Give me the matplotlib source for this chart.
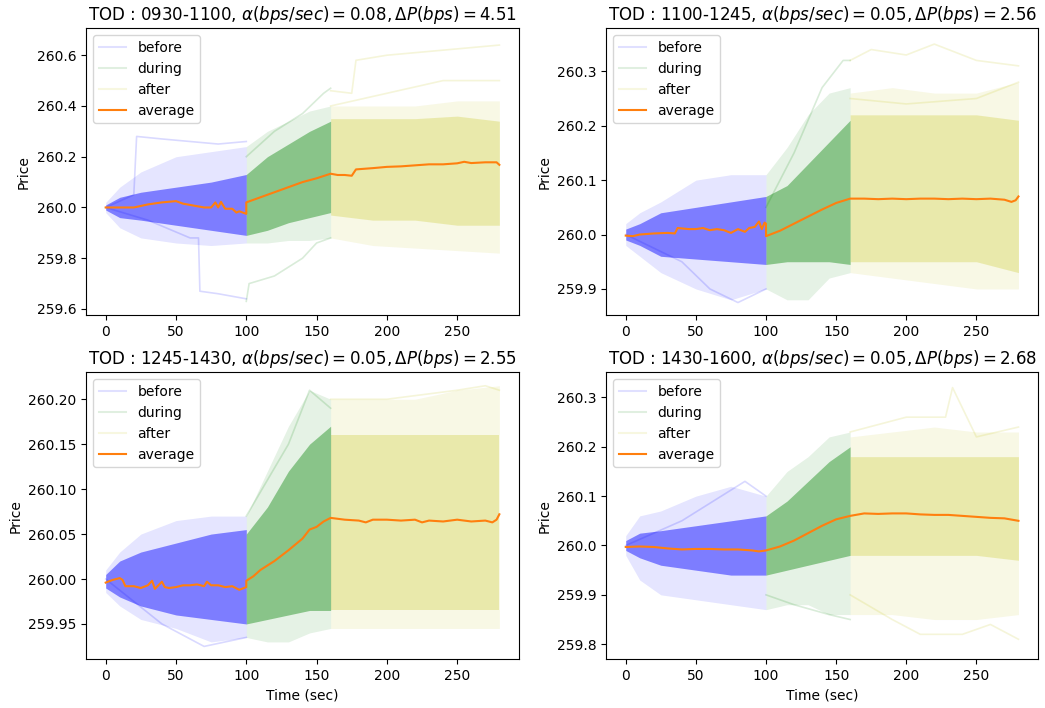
import matplotlib
matplotlib.use("Agg")
import matplotlib.pyplot as plt
from matplotlib.lines import Line2D

# ---------------- data ----------------
TITLES = [
    r"TOD : 0930-1100, $\alpha(bps/sec) = 0.08, \Delta P(bps) = 4.51$",
    r"TOD : 1100-1245, $\alpha(bps/sec) = 0.05, \Delta P(bps) = 2.56$",
    r"TOD : 1245-1430, $\alpha(bps/sec) = 0.05, \Delta P(bps) = 2.55$",
    r"TOD : 1430-1600, $\alpha(bps/sec) = 0.05, \Delta P(bps) = 2.68$",
]
X_TICKS = [0, 50, 100, 150, 200, 250]

# time knots of the spread envelopes for each phase
T_BEFORE = [0, 10, 25, 50, 75, 100]
T_DURING = [100, 115, 130, 145, 160]
T_AFTER = [160, 190, 220, 250, 280]

# envelopes per phase: [outer_lo, core_lo, core_hi, outer_hi]
P1_BEFORE = [[259.98, 259.92, 259.88, 259.86, 259.85, 259.86],
             [259.99, 259.96, 259.95, 259.93, 259.91, 259.89],
             [260.01, 260.04, 260.06, 260.08, 260.10, 260.13],
             [260.02, 260.08, 260.14, 260.20, 260.22, 260.24]]
P1_DURING = [[259.86, 259.86, 259.87, 259.87, 259.88],
             [259.89, 259.91, 259.94, 259.96, 259.98],
             [260.13, 260.20, 260.25, 260.30, 260.34],
             [260.24, 260.30, 260.34, 260.38, 260.40]]
P1_AFTER = [[259.88, 259.85, 259.84, 259.83, 259.82],
            [259.97, 259.95, 259.95, 259.93, 259.93],
            [260.35, 260.35, 260.35, 260.36, 260.34],
            [260.40, 260.40, 260.40, 260.42, 260.42]]

P2_BEFORE = [[259.98, 259.96, 259.93, 259.90, 259.88, 259.90],
             [259.99, 259.98, 259.96, 259.955, 259.95, 259.945],
             [260.01, 260.02, 260.04, 260.05, 260.06, 260.07],
             [260.02, 260.04, 260.06, 260.10, 260.11, 260.11]]
P2_DURING = [[259.90, 259.88, 259.88, 259.92, 259.93],
             [259.945, 259.95, 259.95, 259.95, 259.945],
             [260.07, 260.09, 260.13, 260.17, 260.21],
             [260.11, 260.16, 260.22, 260.26, 260.27]]
P2_AFTER = [[259.93, 259.92, 259.91, 259.90, 259.90],
            [259.95, 259.95, 259.95, 259.95, 259.93],
            [260.22, 260.22, 260.22, 260.22, 260.21],
            [260.26, 260.27, 260.26, 260.26, 260.28]]

P3_BEFORE = [[259.985, 259.97, 259.955, 259.945, 259.93, 259.935],
             [259.99, 259.98, 259.97, 259.96, 259.955, 259.95],
             [260.005, 260.02, 260.03, 260.04, 260.05, 260.055],
             [260.01, 260.03, 260.05, 260.065, 260.07, 260.07]]
P3_DURING = [[259.935, 259.93, 259.93, 259.94, 259.945],
             [259.95, 259.955, 259.96, 259.965, 259.965],
             [260.05, 260.08, 260.12, 260.15, 260.17],
             [260.07, 260.12, 260.17, 260.21, 260.20]]
P3_AFTER = [[259.945, 259.945, 259.945, 259.945, 259.945],
            [259.965, 259.965, 259.965, 259.965, 259.965],
            [260.16, 260.16, 260.16, 260.16, 260.16],
            [260.20, 260.20, 260.20, 260.21, 260.215]]

P4_BEFORE = [[259.98, 259.93, 259.90, 259.89, 259.88, 259.87],
             [259.99, 259.975, 259.96, 259.95, 259.94, 259.94],
             [260.01, 260.025, 260.03, 260.04, 260.05, 260.06],
             [260.02, 260.06, 260.07, 260.10, 260.12, 260.10]]
P4_DURING = [[259.87, 259.88, 259.88, 259.86, 259.86],
             [259.94, 259.95, 259.96, 259.97, 259.98],
             [260.06, 260.09, 260.13, 260.17, 260.20],
             [260.10, 260.15, 260.18, 260.22, 260.23]]
P4_AFTER = [[259.86, 259.86, 259.85, 259.85, 259.86],
            [259.98, 259.98, 259.98, 259.98, 259.97],
            [260.18, 260.18, 260.18, 260.18, 260.18],
            [260.22, 260.23, 260.24, 260.23, 260.23]]

# a few individual outlying paths: (phase, times, prices)
P1_OUT = [("before", [0, 20, 22, 40, 60, 80, 100], [260.0, 260.05, 260.28, 260.27, 260.26, 260.25, 260.26]),
          ("before", [0, 30, 60, 66, 67, 80, 100], [260.0, 259.95, 259.88, 259.88, 259.67, 259.66, 259.64]),
          ("during", [100, 102, 120, 140, 150, 160], [259.63, 259.70, 259.73, 259.80, 259.86, 259.88]),
          ("during", [100, 120, 140, 155, 160], [260.20, 260.30, 260.37, 260.45, 260.47]),
          ("after", [160, 175, 178, 200, 240, 280], [260.46, 260.45, 260.58, 260.60, 260.62, 260.64]),
          ("after", [160, 200, 240, 280], [260.40, 260.45, 260.50, 260.50])]
P2_OUT = [("before", [0, 40, 60, 80, 100], [260.0, 259.95, 259.90, 259.875, 259.90]),
          ("during", [100, 120, 140, 155, 160], [260.05, 260.15, 260.27, 260.32, 260.32]),
          ("after", [160, 175, 200, 220, 250, 280], [260.32, 260.34, 260.33, 260.35, 260.32, 260.31]),
          ("after", [160, 200, 250, 280], [260.25, 260.24, 260.25, 260.28])]
P3_OUT = [("before", [0, 40, 70, 100], [260.0, 259.95, 259.925, 259.935]),
          ("during", [100, 130, 145, 160], [260.07, 260.15, 260.21, 260.19]),
          ("after", [160, 200, 250, 270, 280], [260.20, 260.20, 260.21, 260.215, 260.21])]
P4_OUT = [("before", [0, 40, 85, 100], [260.0, 260.05, 260.13, 260.10]),
          ("during", [100, 120, 145, 160], [259.90, 259.88, 259.86, 259.85]),
          ("after", [160, 200, 228, 233, 250, 280], [260.23, 260.26, 260.26, 260.32, 260.22, 260.24]),
          ("after", [160, 190, 210, 240, 260, 280], [259.90, 259.85, 259.82, 259.82, 259.84, 259.81])]

# average line
P1_T_AVG = [0, 10, 20, 30, 40, 50, 55, 60, 70, 75, 78, 80, 82, 85, 90, 93, 95, 100,
            100, 110, 120, 130, 140, 150, 160,
            165, 170, 175, 178, 190, 200, 210, 220, 230, 240, 250, 255, 260, 270, 278, 280]
P1_AVG = [260.0, 260.0, 260.0, 260.012, 260.02, 260.025, 260.015, 260.01, 260.0, 260.0, 260.02, 260.0, 260.022,
          259.995, 259.995, 259.98, 259.985, 259.975,
          260.02, 260.04, 260.06, 260.08, 260.10, 260.115, 260.133,
          260.128, 260.128, 260.125, 260.15, 260.155, 260.16, 260.162, 260.166, 260.17, 260.17, 260.174,
          260.18, 260.175, 260.178, 260.178, 260.168]
P2_T_AVG = [0, 5, 10, 20, 30, 35, 37, 45, 50, 55, 60, 65, 70, 75, 80, 85, 88, 92, 95, 97, 99, 100,
            100, 110, 120, 130, 140, 150, 160,
            170, 180, 190, 200, 210, 220, 230, 240, 250, 260, 270, 275, 278, 280]
P2_AVG = [259.998, 259.997, 260.0, 260.002, 260.003, 260.002, 260.012, 260.01, 260.01, 260.012, 260.008, 260.01,
          260.008, 260.003, 260.01, 260.005, 260.012, 260.014, 260.024, 260.01, 260.022, 260.02,
          259.997, 260.007, 260.02, 260.033, 260.046, 260.058, 260.066,
          260.066, 260.065, 260.066, 260.065, 260.066, 260.066, 260.065, 260.066, 260.065, 260.066, 260.064,
          260.06, 260.063, 260.07]
P3_T_AVG = [0, 5, 10, 12, 14, 20, 25, 30, 33, 35, 40, 42, 45, 50, 55, 60, 65, 70, 72, 75, 80, 85, 90, 95, 100,
            100, 105, 110, 120, 130, 140, 145, 150, 155, 160,
            170, 180, 185, 190, 200, 210, 220, 225, 230, 240, 250, 260, 270, 275, 278, 280]
P3_AVG = [259.996, 259.999, 260.001, 259.999, 259.992, 259.992, 259.99, 259.993, 259.998, 259.989, 259.997,
          259.991, 259.99, 259.991, 259.993, 259.993, 259.994, 259.992, 259.997, 259.993, 259.993, 259.991,
          259.992, 259.988, 259.991,
          259.998, 260.003, 260.01, 260.02, 260.032, 260.045, 260.055, 260.058, 260.064, 260.068,
          260.066, 260.065, 260.063, 260.066, 260.066, 260.065, 260.066, 260.063, 260.065, 260.064, 260.066,
          260.064, 260.065, 260.063, 260.066, 260.072]
P4_T_AVG = [0, 10, 20, 30, 40, 50, 60, 70, 80, 90, 95, 100,
            100, 110, 120, 130, 140, 150, 160,
            170, 180, 190, 200, 210, 220, 230, 240, 250, 260, 270, 280]
P4_AVG = [259.997, 259.998, 259.997, 259.994, 259.992, 259.993, 259.993, 259.992, 259.992, 259.99, 259.988,
          259.99,
          259.99, 259.998, 260.01, 260.025, 260.04, 260.053, 260.06,
          260.065, 260.064, 260.065, 260.065, 260.063, 260.062, 260.062, 260.06, 260.058, 260.056, 260.055,
          260.05]

Y_LIMS = [(259.576, 260.706), (259.852, 260.379), (259.911, 260.230), (259.770, 260.351)]

# ---------------- styling ----------------
PHASE_COLOR = {"before": "b", "during": "g", "after": "y"}
CORE_ALPHA = {"before": 0.45, "during": 0.40, "after": 0.25}
OUTER_ALPHA = {"before": 0.10, "during": 0.10, "after": 0.10}
PHASE_T = {"before": T_BEFORE, "during": T_DURING, "after": T_AFTER}

panels = [
    (P1_BEFORE, P1_DURING, P1_AFTER, P1_OUT, P1_T_AVG, P1_AVG),
    (P2_BEFORE, P2_DURING, P2_AFTER, P2_OUT, P2_T_AVG, P2_AVG),
    (P3_BEFORE, P3_DURING, P3_AFTER, P3_OUT, P3_T_AVG, P3_AVG),
    (P4_BEFORE, P4_DURING, P4_AFTER, P4_OUT, P4_T_AVG, P4_AVG),
]

fig = plt.figure(figsize=(10.45, 7.08), dpi=100)
positions = [
    [0.0823, 0.555, 0.4144, 0.405],
    [0.580, 0.555, 0.4134, 0.405],
    [0.0823, 0.0692, 0.4144, 0.405],
    [0.580, 0.0692, 0.4134, 0.405],
]

for i, (before, during, after, outs, tavg, avg) in enumerate(panels):
    ax = fig.add_axes(positions[i])
    for phase, env in (("before", before), ("during", during), ("after", after)):
        t = PHASE_T[phase]
        c = PHASE_COLOR[phase]
        ax.fill_between(t, env[0], env[3], color=c, alpha=OUTER_ALPHA[phase], linewidth=0)
        ax.fill_between(t, env[1], env[2], color=c, alpha=CORE_ALPHA[phase], linewidth=0)
    for phase, tt, yy in outs:
        ax.plot(tt, yy, color=PHASE_COLOR[phase], alpha=0.15, linewidth=1.2)
    ax.plot(tavg, avg, color="C1", linewidth=1.5)

    ax.set_xlim(-14, 294)
    ax.set_ylim(*Y_LIMS[i])
    ax.set_xticks(X_TICKS)
    ax.set_ylabel("Price")
    if i >= 2:
        ax.set_xlabel("Time (sec)")
    ax.set_title(TITLES[i], fontsize=12)
    handles = [
        Line2D([], [], color="b", alpha=0.12, linewidth=1.5),
        Line2D([], [], color="g", alpha=0.12, linewidth=1.5),
        Line2D([], [], color="y", alpha=0.12, linewidth=1.5),
        Line2D([], [], color="C1", linewidth=1.5),
    ]
    ax.legend(handles, ["before", "during", "after", "average"], loc="upper left")

fig.savefig("out.png", dpi=100)
